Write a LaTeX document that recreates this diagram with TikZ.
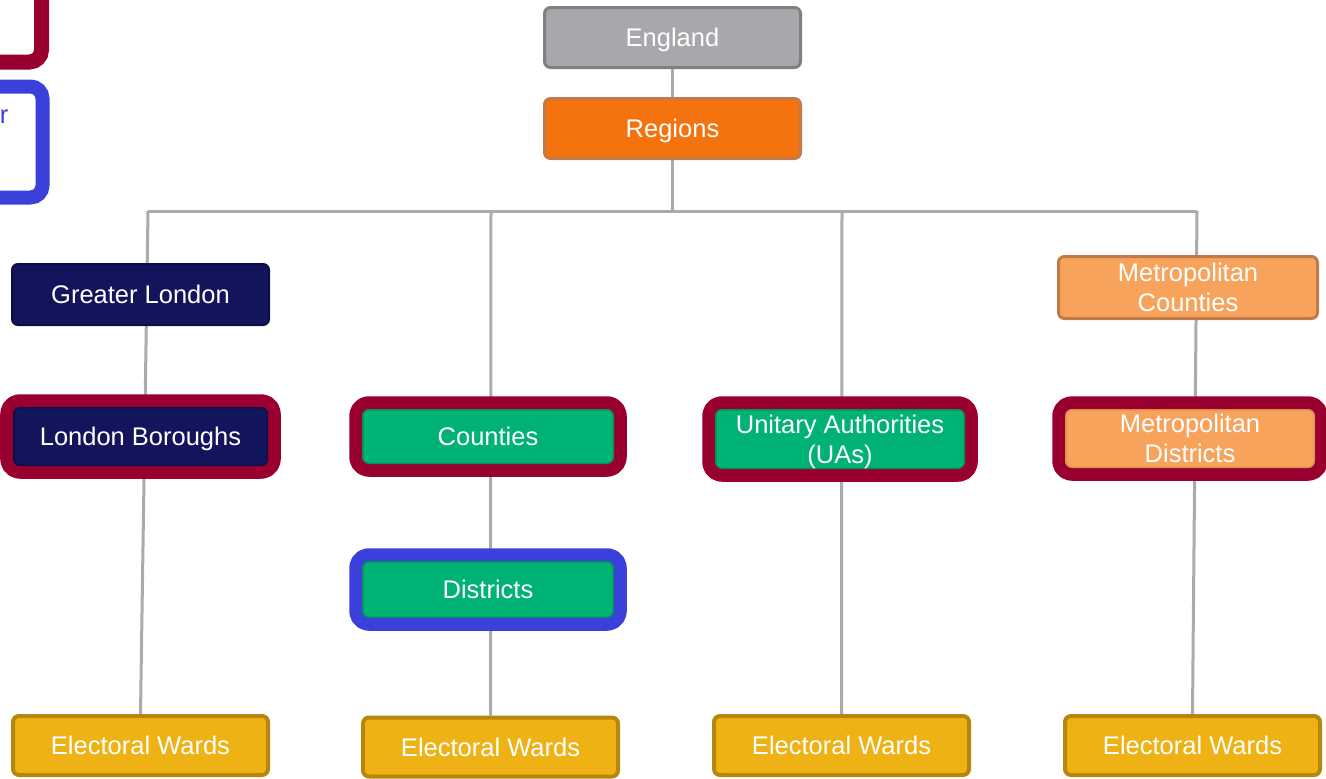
\documentclass[tikz,border=0pt]{standalone}
\usepackage{fontspec}
\setmainfont{Liberation Sans}
\usetikzlibrary{backgrounds}
\definecolor{cgray}{HTML}{A7A8AB}
\definecolor{cgrayb}{HTML}{7F8082}
\definecolor{corange}{HTML}{F5730E}
\definecolor{corangeb}{HTML}{C27A4C}
\definecolor{cnavy}{HTML}{12155C}
\definecolor{cnavyb}{HTML}{0C0F45}
\definecolor{cgreen}{HTML}{00B374}
\definecolor{cgreenb}{HTML}{00925E}
\definecolor{clor}{HTML}{F8A35C}
\definecolor{clorb}{HTML}{C07A48}
\definecolor{clorbi}{HTML}{DE8E4E}
\definecolor{cgold}{HTML}{EFB215}
\definecolor{cgoldb}{HTML}{B6870C}
\definecolor{cred}{HTML}{990030}
\definecolor{cblue}{HTML}{3A40D9}
\definecolor{cline}{HTML}{ABABAE}
\begin{document}
\begin{tikzpicture}[x=1pt,y=-1pt,
  basebox/.style={rounded corners=6pt, inner sep=0pt, align=center, text=white,
    text depth=0pt, font=\fontsize{25.5}{30}\selectfont},
  plainbox/.style={basebox, line width=3pt},
  innerbox/.style={basebox, line width=1.5pt},
  ringed/.style={preaction={draw=#1, line width=27pt, line join=round}},
  wardbox/.style={basebox, line width=4pt, fill=cgold, draw=cgoldb,
    minimum width=255pt, minimum height=59pt},
  link/.style={draw=cline, line width=3pt}]
\useasboundingbox (0,0) rectangle (1326,779);
\clip (0,0) rectangle (1326,779);

% partial legend boxes at the left edge
\draw[cred, line width=15pt, rounded corners=12pt] (-60,-60) rectangle (41.5,62);
\draw[cblue, line width=14pt, rounded corners=12pt] (-60,86.5) rectangle (42.5,197.5);
\node[anchor=base east, inner sep=0pt, text=cblue, font=\fontsize{25.5}{30}\selectfont] (legr) at (8.5,123) {r};

% nodes
\node[plainbox, fill=cgray, draw=cgrayb, minimum width=256pt, minimum height=60pt] (eng) at (672.5,37.5) {England};
\node[plainbox, fill=corange, draw=corangeb, minimum width=256pt, minimum height=60pt] (reg) at (672.5,128.5) {Regions};

\node[basebox, line width=2pt, fill=cnavy, draw=cnavyb, minimum width=257pt, minimum height=61pt] (gl) at (140.5,294.5) {Greater London};
\node[innerbox, ringed=cred, fill=cnavy, draw=cnavyb, minimum width=253.5pt, minimum height=57.5pt] (lb) at (140.5,436.5) {London Boroughs};

\node[innerbox, ringed=cred, fill=cgreen, draw=cgreenb, minimum width=250.5pt, minimum height=53.5pt] (cty) at (488,436.5) {Counties};
\node[innerbox, ringed=cblue, fill=cgreen, draw=cgreenb, minimum width=250.5pt, minimum height=55.5pt] (dst) at (488,589.5) {Districts};

\node[innerbox, ringed=cred, fill=cgreen, draw=cgreenb, minimum width=248.5pt, minimum height=58.5pt] (ua) at (840,439) {Unitary Authorities\\(UAs)};

\node[plainbox, fill=clor, draw=clorb, minimum width=259pt, minimum height=62pt] (mc) at (1188,287.5) {Metropolitan\\Counties};
\node[innerbox, ringed=cred, fill=clor, draw=clorbi, minimum width=248.5pt, minimum height=57.5pt] (md) at (1190,438.5) {Metropolitan\\Districts};

\node[wardbox] (ew1) at (140.5,745.5) {Electoral Wards};
\node[wardbox] (ew2) at (490.5,747) {Electoral Wards};
\node[wardbox] (ew3) at (841.5,745.5) {Electoral Wards};
\node[wardbox] (ew4) at (1192.5,745.5) {Electoral Wards};

% bus coordinates
\coordinate (b1) at (148,211);
\coordinate (b2) at (491,211);
\coordinate (b3) at (842,211);
\coordinate (b4) at (1197,211);
\coordinate (bj) at (672.5,211);

\begin{pgfonlayer}{background}
  \draw[link] (eng.south) -- (reg.north);
  \draw[link] (reg.south) -- (bj);
  \draw[link] (b1) -- (b4);
  \draw[link] (b1) -- (ew1.north);
  \draw[link] (b2) -- (ew2.north);
  \draw[link] (b3) -- (ew3.north);
  \draw[link] (b4) -- (ew4.north);
\end{pgfonlayer}
\end{tikzpicture}
\end{document}
